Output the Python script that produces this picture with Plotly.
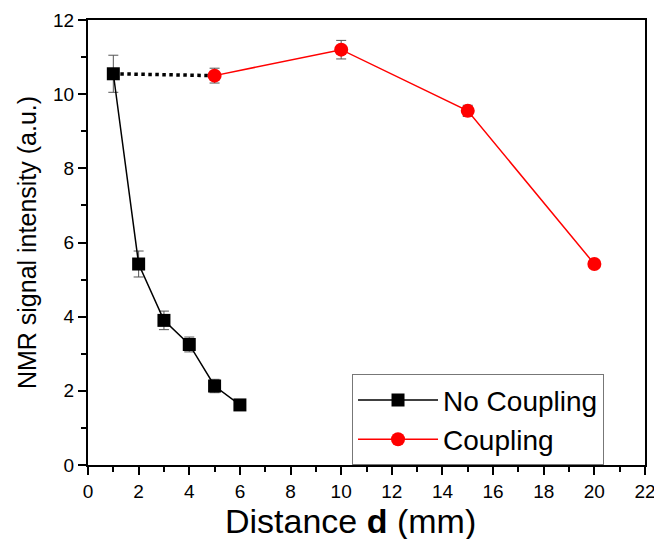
import plotly.graph_objects as go

x_nc = [1, 2, 3, 4, 5, 6]
y_nc = [10.55, 5.42, 3.9, 3.25, 2.13, 1.62]
e_nc = [0.5, 0.35, 0.25, 0.2, 0.18, 0.05]

x_c = [5, 10, 15, 20]
y_c = [10.5, 11.2, 9.55, 5.42]
e_c = [0.2, 0.25, 0.15, 0.05]

x_dot = [1, 5]
y_dot = [10.55, 10.5]

x_title = "Distance <b>d</b> (mm)"
y_title = "NMR signal intensity (a.u.)"

FONT = "Arial, Liberation Sans, sans-serif"

fig = go.Figure()
fig.add_trace(go.Scatter(x=x_dot, y=y_dot, mode="lines", showlegend=False,
                         line=dict(color="black", width=3.5, dash="dot")))
fig.add_trace(go.Scatter(x=x_nc, y=y_nc, mode="lines+markers", name="No Coupling",
                         line=dict(color="black", width=1.5),
                         marker=dict(symbol="square", size=13, color="black"),
                         error_y=dict(type="data", array=e_nc, color="#555", thickness=1, width=5)))
fig.add_trace(go.Scatter(x=x_c, y=y_c, mode="lines+markers", name="Coupling",
                         line=dict(color="red", width=1.5),
                         marker=dict(symbol="circle", size=14, color="red"),
                         error_y=dict(type="data", array=e_c, color="#555", thickness=1, width=5)))

axis_common = dict(showgrid=False, zeroline=False, showline=True, linecolor="black", linewidth=2,
                   mirror=True, ticks="outside", ticklen=8, tickwidth=2, tickcolor="black",
                   ticklabeloverflow="allow",
                   tickfont=dict(family=FONT, size=19, color="black"))
minor = dict(dtick=1, ticks="outside", ticklen=5, tickwidth=2, tickcolor="black")

fig.update_xaxes(range=[0, 22], dtick=2, tick0=0, minor=minor, **axis_common)
fig.update_yaxes(range=[0, 12], dtick=2, tick0=0, minor=minor,
                 title=dict(text=y_title, font=dict(family=FONT, size=25, color="black"), standoff=9),
                 **axis_common)

fig.add_annotation(text=x_title, xref="paper", yref="paper", x=0.472, y=-0.125,
                   xanchor="center", yanchor="middle", showarrow=False,
                   font=dict(family=FONT, size=34, color="black"))

fig.update_layout(width=654, height=539, margin=dict(l=88, r=9, t=20, b=74, autoexpand=False),
                  plot_bgcolor="white", paper_bgcolor="white",
                  legend=dict(x=0.474, y=0.204, xanchor="left", yanchor="top",
                              bordercolor="#777", borderwidth=1, bgcolor="white",
                              font=dict(family=FONT, size=28, color="black"),
                              tracegroupgap=0, itemwidth=80))
fig.write_html("out.html", config={"displayModeBar": False},
               post_script="document.body.style.margin='0';document.body.style.overflow='hidden';")
